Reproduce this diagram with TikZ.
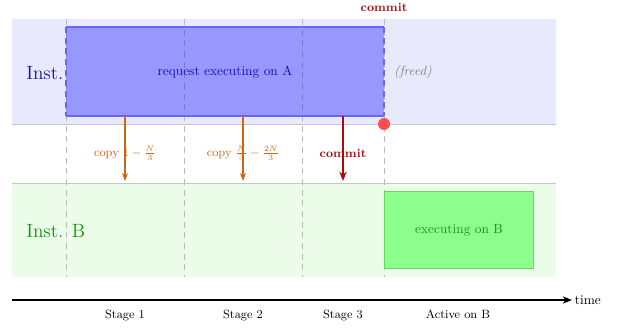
\documentclass[tikz,border=0pt]{standalone}
\usetikzlibrary{arrows.meta}
\definecolor{bandA}{HTML}{E9E9FD}
\definecolor{bandB}{HTML}{EBFDE9}
\definecolor{instblue}{HTML}{1414A8}
\definecolor{instgreen}{HTML}{129412}
\definecolor{copyorange}{HTML}{CC6611}
\definecolor{commitred}{HTML}{AA0A0A}
\begin{document}
\begin{tikzpicture}[x=0.75pt,y=-0.75pt,
    stageline/.style={gray!55, line width=0.5pt, dash pattern=on 4.5pt off 3.5pt},
    copyarrow/.style={-{Stealth[length=6pt,width=4.5pt]}, draw=copyorange, line width=0.8pt},
    commitarrow/.style={-{Stealth[length=7pt,width=5.5pt]}, draw=commitred, line width=1.2pt},
    copylabel/.style={text=copyorange, font=\small},
    stagelabel/.style={font=\small, anchor=base}]
  \useasboundingbox (0,0) rectangle (617,328);
  % instance bands
  \fill[bandA] (12,19) rectangle (556,124);
  \fill[bandB] (12,183) rectangle (556,277);
  \draw[gray!45, line width=0.6pt] (12,124) -- (556,124);
  \draw[gray!45, line width=0.6pt] (12,183) -- (556,183);
  % stage boundaries
  \foreach \sx in {66,184,302,384}
    \draw[stageline] (\sx,19) -- (\sx,277);
  % request on A
  \fill[blue, fill opacity=0.35] (66,27) rectangle (384,116);
  \draw[blue!60, line width=0.8pt] (66,27) -- (384,27) (66,116) -- (384,116);
  \draw[blue!60, line width=0.8pt, dash pattern=on 4.5pt off 3.5pt] (66,27) -- (66,116) (384,27) -- (384,116);
  \node[text=instblue!80!blue] (reqA) at (225,72) {request executing on A};
  \node[text=gray, font=\itshape] (freed) at (413,72) {(freed)};
  \node[text=instblue, font=\Large, anchor=west, inner sep=0pt] (instA) at (26,73) {Inst.};
  \node[text=instgreen, font=\Large, anchor=west, inner sep=0pt] (instB) at (26,231) {Inst. B};
  % executing on B
  \node[draw=green!75!black!60, line width=0.8pt, fill=green!45, minimum width=111.75pt, minimum height=57.75pt, anchor=north west, text=instgreen] (execB) at (384,191) {executing on B};
  % commit point
  \node[text=commitred, font=\small\bfseries] (commitTop) at (384,7) {commit};
  \fill[red!70] (384,124) circle (6);
  % copy stages
  \coordinate (c1s) at (125,116); \coordinate (c1e) at (125,181);
  \coordinate (c2s) at (243,116); \coordinate (c2e) at (243,181);
  \coordinate (c3s) at (343,116); \coordinate (c3e) at (343,181);
  \draw[copyarrow] (c1s) -- (c1e);
  \draw[copyarrow] (c2s) -- (c2e);
  \draw[commitarrow] (c3s) -- (c3e);
  \node[copylabel] (copy1) at (125,153) {copy $1-\frac{N}{3}$};
  \node[copylabel] (copy2) at (243,153) {copy $\frac{N}{3}-\frac{2N}{3}$};
  \node[text=commitred, font=\small\bfseries] (commitMid) at (343,153) {commit};
  % time axis
  \coordinate (t0) at (12,300);
  \node[anchor=west, inner sep=2pt] (time) at (572,300) {time};
  \draw[-{Stealth[length=7pt,width=5.5pt]}, line width=1pt] (t0) -- (time.west);
  \node[stagelabel] (st1) at (125,318) {Stage 1};
  \node[stagelabel] (st2) at (243,318) {Stage 2};
  \node[stagelabel] (st3) at (343,318) {Stage 3};
  \node[stagelabel] (stB) at (458,318) {Active on B};
\end{tikzpicture}
\end{document}
